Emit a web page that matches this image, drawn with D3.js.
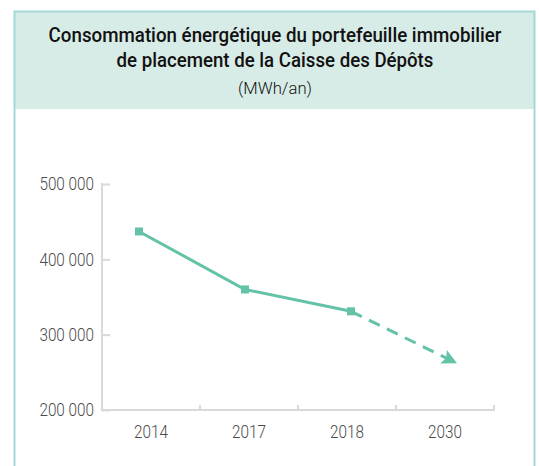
<!DOCTYPE html>
<html>
<head>
<meta charset="utf-8">
<script src="https://cdn.jsdelivr.net/npm/d3@7"></script>
<style>
  body { margin: 0; background: #fff; }
  svg { display: block; }
  .title { font-family: "Roboto", "Liberation Sans", sans-serif; fill: #111; }
  .tick-lbl { font-family: "Roboto", "Liberation Sans", sans-serif; font-weight: 300; fill: #4a4a4a; font-size: 18px; }
</style>
</head>
<body>
<svg id="chart" width="539" height="466"></svg>
<script>
// data
const years = ['2014', '2017', '2018', '2030'];
const actual = [437000, 360000, 331000];        // measured 2014 - 2018
const target = [331000, 262000];                // 2018 -> 2030 objective (dashed)
const yTicks = [200000, 300000, 400000, 500000];

const W = 539, H = 466;
const MARGIN = {left: 102, right: 45, top: 184, bottom: 56};
const GREEN = '#63c2a8';
const NARROW = 0.85;   // fake a condensed face

const svg = d3.select('#chart');

// frame + header
svg.append('rect')
    .attr('x', 14).attr('y', 11)
    .attr('width', 520).attr('height', 98)
    .attr('fill', '#d8ece7');

svg.append('path')
    .attr('d', `M14.5,${H} V11.5 H534.5 V${H}`)
    .attr('fill', 'none')
    .attr('stroke', '#a3d8d6')
    .attr('stroke-width', 2);

const titleLines = [
    {txt: 'Consommation énergétique du portefeuille immobilier', y: 42, size: 21, w: 453, weight: 500},
    {txt: 'de placement de la Caisse des Dépôts', y: 67, size: 21, w: 317, weight: 500},
    {txt: '(MWh/an)', y: 94, size: 17, w: 74, weight: 300}
];
// squeeze each line to the width it has in the original (condensed face)
svg.selectAll('.title')
    .data(titleLines)
    .enter()
    .append('text')
    .attr('class', 'title')
    .attr('text-anchor', 'middle')
    .style('font-size', (d) => d.size + 'px')
    .style('font-weight', (d) => d.weight)
    .text((d) => d.txt)
    .attr('transform', function(d) {
        const k = d.w / this.getComputedTextLength();
        return `translate(275, ${d.y}) scale(${k}, 1)`;
    });

// scales
const xBand = d3.scaleBand()
    .domain(years)
    .range([MARGIN.left, W - MARGIN.right]);

// the marks sit a bit inside the label bands
const xPoint = d3.scalePoint()
    .domain(years)
    .range([139, 457]);

const yScale = d3.scaleLinear()
    .domain([200000, 500000])
    .range([H - MARGIN.bottom, MARGIN.top]);

const fmt = (v) => d3.format(',')(v).replace(/,/g, ' ');

// y axis
const yAxis = svg.append('g')
    .attr('transform', `translate(${MARGIN.left}, 0)`)
    .call(d3.axisRight(yScale).tickValues(yTicks).tickSize(8).tickFormat(''));
yAxis.select('.domain').remove();
yAxis.selectAll('.tick line').attr('stroke', '#d9d9d9').attr('stroke-width', 2);
yAxis.append('line')
    .attr('x1', 0).attr('x2', 0)
    .attr('y1', yScale(500000) - 1).attr('y2', yScale(200000) + 1)
    .attr('stroke', '#d9d9d9').attr('stroke-width', 2);

svg.append('g').selectAll('text')
    .data(yTicks)
    .enter()
    .append('text')
    .attr('class', 'tick-lbl')
    .attr('transform', (d) => `translate(${MARGIN.left - 8}, ${yScale(d)}) scale(${NARROW}, 1)`)
    .attr('dy', '0.35em')
    .attr('text-anchor', 'end')
    .text(fmt);

// x axis
const xAxis = svg.append('g')
    .attr('transform', `translate(0, ${yScale(200000)})`);
xAxis.append('line')
    .attr('x1', MARGIN.left).attr('x2', W - MARGIN.right + 1)
    .attr('stroke', '#d9d9d9').attr('stroke-width', 2);
xAxis.selectAll('.xt')
    .data(years)
    .enter()
    .append('line')
    .attr('class', 'xt')
    .attr('x1', (d) => xBand(d) + xBand.bandwidth())
    .attr('x2', (d) => xBand(d) + xBand.bandwidth())
    .attr('y1', 0).attr('y2', -5)
    .attr('stroke', '#d9d9d9').attr('stroke-width', 2);
xAxis.selectAll('text')
    .data(years)
    .enter()
    .append('text')
    .attr('class', 'tick-lbl')
    .attr('transform', (d) => `translate(${xBand(d) + xBand.bandwidth() / 2}, 28) scale(${NARROW}, 1)`)
    .attr('text-anchor', 'middle')
    .text((d) => d);

// arrow head
svg.append('defs').append('marker')
    .attr('id', 'arrow')
    .attr('viewBox', '0 0 10 10')
    .attr('refX', 10).attr('refY', 5)
    .attr('markerUnits', 'userSpaceOnUse')
    .attr('markerWidth', 19).attr('markerHeight', 15)
    .attr('orient', 'auto')
    .append('path')
    .attr('d', 'M0,0 L10,5 L0,10 L2,5 Z')
    .attr('fill', GREEN);

// dashed projection
const line = d3.line()
    .x((d) => xPoint(d.year))
    .y((d) => yScale(d.v));

const targetData = target.map((v, i) => ({year: years[2 + i], v: v}));
svg.append('path')
    .datum(targetData)
    .attr('d', line)
    .attr('fill', 'none')
    .attr('stroke', GREEN)
    .attr('stroke-width', 3)
    .attr('stroke-dasharray', '12,8')
    .attr('marker-end', 'url(#arrow)');

// solid measured line
const actualData = actual.map((v, i) => ({year: years[i], v: v}));
svg.append('path')
    .datum(actualData)
    .attr('d', line)
    .attr('fill', 'none')
    .attr('stroke', GREEN)
    .attr('stroke-width', 3);

svg.selectAll('.pt')
    .data(actualData)
    .enter()
    .append('rect')
    .attr('class', 'pt')
    .attr('x', (d) => xPoint(d.year) - 4)
    .attr('y', (d) => yScale(d.v) - 4)
    .attr('width', 8).attr('height', 8)
    .attr('fill', GREEN);
</script>
</body>
</html>
